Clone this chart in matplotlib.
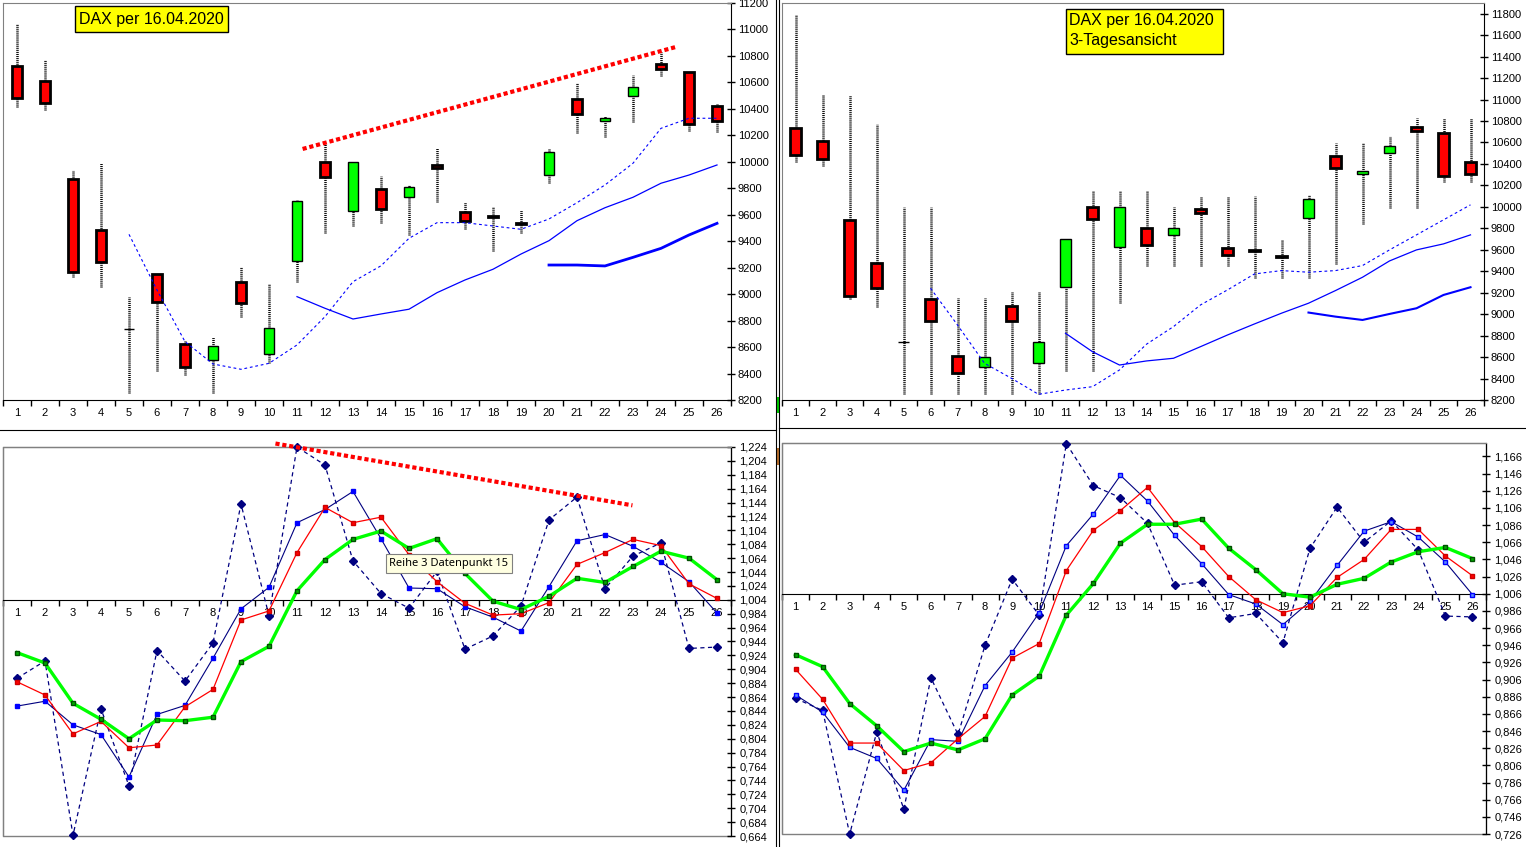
import numpy as np
import matplotlib
matplotlib.use('Agg')
import matplotlib.pyplot as plt
from matplotlib.patches import Rectangle
from matplotlib.lines import Line2D
from matplotlib.ticker import FixedLocator, FuncFormatter

plt.rcParams['font.family'] = ['Liberation Sans', 'DejaVu Sans']
plt.rcParams['lines.scale_dashes'] = False

W, H = 1526, 847
tage = list(range(1, 27))

# --- Tageskerzen (oben links) ---
tag_open = [10726, 10608, 9868, 9482, 8737, 9150, 8621, 8500, 9089, 8545, 9248, 9996, 9626,
            9797, 9732, 9976, 9619, 9592, 9541, 9900, 10473, 10306, 10495, 10737, 10681, 10425]
tag_high = [11041, 10769, 9938, 9989, 8976, 9150, 8653, 8674, 9207, 9074, 9711, 10135, 9996,
            9893, 9825, 10107, 9699, 9656, 9636, 10107, 10593, 10346, 10656, 10833, 10681, 10435]
tag_low = [10417, 10392, 9132, 9056, 8250, 8421, 8389, 8255, 8830, 8477, 9094, 9460, 9517,
           9540, 9447, 9699, 9495, 9329, 9465, 9838, 10220, 10190, 10303, 10651, 10235, 10228]
tag_close = [10480, 10444, 9165, 9241, 8737, 8943, 8447, 8606, 8931, 8742, 9704, 9883, 9996,
             9641, 9812, 9950, 9553, 9582, 9531, 10072, 10359, 10329, 10563, 10699, 10286, 10306]
tag_ma_kurz = [9452, 9031, 8641, 8472, 8432, 8477, 8616, 8830, 9094, 9214, 9422, 9540, 9540,
               9515, 9490, 9568, 9691, 9825, 9989, 10253, 10329, 10329]          # ab Tag 5
tag_ma_mittel = [8981, 8893, 8812, 8850, 8886, 9011, 9107, 9188, 9303, 9404, 9555, 9653,
                 9732, 9838, 9900, 9976]                                          # ab Tag 11
tag_ma_lang = [9220, 9220, 9213, 9278, 9346, 9447, 9535]                          # ab Tag 20

# --- 3-Tagesansicht (oben rechts) ---
drei_open = [10734, 10612, 9876, 9480, 8738, 9145, 8613, 8505, 9079, 8542, 9251, 9997, 9624,
             9800, 9736, 9978, 9615, 9595, 9542, 9894, 10472, 10308, 10501, 10743, 10687, 10422]
drei_high = [11784, 11044, 11044, 10774, 9997, 9997, 9148, 9148, 9204, 9204, 9701, 10144, 10144,
             10144, 10003, 10103, 10103, 10103, 9692, 10112, 10594, 10594, 10662, 10827, 10827, 10827]
drei_low = [10422, 10385, 9139, 9064, 8253, 8253, 8253, 8253, 8253, 8253, 8473, 8473, 9101,
            9453, 9453, 9453, 9453, 9335, 9335, 9335, 9465, 9841, 9989, 9989, 10236, 10236]
drei_close = [10485, 10445, 9170, 9242, 8738, 8940, 8449, 8604, 8933, 8738, 9701, 9885, 9997,
              9642, 9807, 9945, 9550, 9585, 9532, 10071, 10361, 10332, 10566, 10709, 10289, 10308]
drei_ma_kurz = [9242, 8899, 8542, 8402, 8253, 8293, 8324, 8480, 8720, 8884, 9086, 9226, 9375,
                9406, 9391, 9406, 9453, 9599, 9739, 9879, 10019]                  # ab Tag 6
drei_ma_mittel = [8822, 8650, 8526, 8564, 8589, 8697, 8806, 8909, 9009, 9102, 9220, 9344,
                  9496, 9599, 9655, 9739]                                         # ab Tag 11
drei_ma_lang = [9015, 8977, 8946, 9002, 9055, 9179, 9251]                         # ab Tag 20

# --- Verhaeltnisse (unten links) ---
ul_reihe1 = [0.891, 0.916, 0.665, 0.847, 0.736, 0.931, 0.887, 0.942, 1.142, 0.981, 1.224, 1.198, 1.060,
             1.013, 0.992, 1.045, 0.933, 0.952, 0.995, 1.119, 1.152, 1.020, 1.067, 1.086, 0.934, 0.936]
ul_reihe2 = [0.851, 0.858, 0.824, 0.810, 0.749, 0.839, 0.852, 0.920, 0.991, 1.022, 1.115, 1.134, 1.160,
             1.092, 1.021, 1.020, 0.994, 0.979, 0.959, 1.023, 1.089, 1.098, 1.081, 1.058, 1.030, 0.985]
ul_reihe3 = [0.886, 0.867, 0.811, 0.829, 0.791, 0.795, 0.850, 0.875, 0.975, 0.988, 1.072, 1.137, 1.115,
             1.123, 1.069, 1.030, 0.999, 0.982, 0.984, 1.000, 1.055, 1.072, 1.091, 1.082, 1.027, 1.006]
ul_reihe4 = [0.928, 0.913, 0.855, 0.832, 0.804, 0.831, 0.830, 0.835, 0.915, 0.937, 1.017, 1.062, 1.091,
             1.103, 1.078, 1.092, 1.042, 1.002, 0.990, 1.009, 1.035, 1.029, 1.052, 1.074, 1.064, 1.033]

# --- Verhaeltnisse (unten rechts) ---
ur_reihe1 = [0.884, 0.870, 0.726, 0.845, 0.755, 0.908, 0.842, 0.946, 1.023, 0.981, 1.181, 1.132, 1.118,
             1.088, 1.016, 1.020, 0.978, 0.983, 0.949, 1.059, 1.107, 1.066, 1.091, 1.057, 0.980, 0.979]
ur_reihe2 = [0.888, 0.868, 0.827, 0.814, 0.777, 0.836, 0.834, 0.899, 0.938, 0.984, 1.062, 1.099, 1.144,
             1.114, 1.074, 1.041, 1.005, 0.994, 0.970, 0.997, 1.039, 1.079, 1.090, 1.072, 1.043, 1.005]
ur_reihe3 = [0.918, 0.883, 0.832, 0.832, 0.800, 0.809, 0.837, 0.863, 0.931, 0.948, 1.033, 1.080, 1.103,
             1.130, 1.089, 1.061, 1.026, 0.999, 0.984, 0.992, 1.025, 1.046, 1.081, 1.081, 1.050, 1.027]
ur_reihe4 = [0.935, 0.921, 0.878, 0.852, 0.822, 0.832, 0.824, 0.837, 0.888, 0.910, 0.981, 1.018, 1.065,
             1.087, 1.087, 1.093, 1.059, 1.034, 1.006, 1.002, 1.017, 1.024, 1.043, 1.055, 1.060, 1.047]

# Trendlinien (Tag, Wert)
trend_oben = ([11.2, 24.57], [10097, 10870])
trend_unten = ([10.23, 22.98], [1.229, 1.140])

ticks_oben_l = list(range(8200, 11201, 200))
ticks_oben_r = list(range(8200, 11801, 200))
ticks_unten_l = [0.664 + 0.02 * k for k in range(29)]
ticks_unten_r = [0.726 + 0.02 * k for k in range(23)]


def ab(start, werte):
    return [np.nan] * (start - 1) + werte


def pos(x0, y0, x1, y1):
    return [x0 / W, 1 - y1 / H, (x1 - x0) / W, (y1 - y0) / H]


def kerzen(ax, o, h, l, c, breite):
    o, h, l, c = map(np.array, (o, h, l, c))
    ax.vlines(tage, l, h, color='black', lw=1.8, linestyles=[(0, (0.7, 0.7))], zorder=2)
    farbe = np.where(c > o, '#00FF00', np.where(c < o, '#FF0000', 'black'))
    lw = np.where(c < o, 2.0, 1.0)
    ax.bar(tage, np.abs(c - o), bottom=np.minimum(o, c), width=breite, color=farbe,
           edgecolor='black', linewidth=lw, zorder=3)


def achsen(ax, ymin, ymax, ticks, fmt, ypad):
    ax.set_xlim(0.5, 26.5)
    ax.set_ylim(ymin, ymax)
    ax.yaxis.tick_right()
    ax.yaxis.set_major_locator(FixedLocator(ticks))
    ax.yaxis.set_major_formatter(FuncFormatter(fmt))
    ax.tick_params(axis='y', direction='inout', length=6, width=1, labelsize=8, pad=ypad)
    ax.set_xticks(tage)
    ax.set_xticks(np.arange(0.5, 27, 1), minor=True)
    ax.tick_params(axis='x', which='major', length=0, labelsize=8, pad=6)
    ax.tick_params(axis='x', which='minor', direction='out', length=4, width=1)
    ax.spines['left'].set_color('#808080')
    ax.spines['top'].set_color('#808080')
    ax.spines['right'].set_color('black')
    ax.spines['bottom'].set_color('black')


fig = plt.figure(figsize=(W / 100, H / 100), dpi=100)
fig.patch.set_facecolor('white')

# oben links
ax1 = fig.add_axes(pos(3, 3, 731, 400))
kerzen(ax1, tag_open, tag_high, tag_low, tag_close, 0.37)
ax1.plot(tage, ab(5, tag_ma_kurz), color='#0000FF', lw=0.8, linestyle=(0, (2, 2)), zorder=4)
ax1.plot(tage, ab(11, tag_ma_mittel), color='#0000FF', lw=0.9, zorder=4)
ax1.plot(tage, ab(20, tag_ma_lang), color='#0000FF', lw=2.0, zorder=4)
ax1.plot(*trend_oben, color='#FF0000', lw=3, linestyle=(0, (3, 2)), zorder=5)
achsen(ax1, 8200, 11200, ticks_oben_l, lambda v, p: f'{v:.0f}', 2)

# oben rechts
ax2 = fig.add_axes(pos(782, 3, 1484, 400))
kerzen(ax2, drei_open, drei_high, drei_low, drei_close, 0.38)
ax2.plot(tage, ab(6, drei_ma_kurz), color='#0000FF', lw=0.8, linestyle=(0, (2, 2)), zorder=4)
ax2.plot(tage, ab(11, drei_ma_mittel), color='#0000FF', lw=0.9, zorder=4)
ax2.plot(tage, ab(20, drei_ma_lang), color='#0000FF', lw=1.5, zorder=4)
achsen(ax2, 8200, 11900, ticks_oben_r, lambda v, p: f'{v:.0f}', 2)


def linien(ax, r1, r2, r3, r4, mfc2):
    ax.plot(tage, r1, color='#000080', lw=0.9, linestyle=(0, (3, 2.5)), marker='D', ms=4.5,
            mfc='#000080', mec='#000080', clip_on=False, zorder=3)
    ax.plot(tage, r2, color='#000080', lw=0.8, marker='s', ms=3.2, mfc=mfc2, mec='#0000FF', zorder=4)
    ax.plot(tage, r3, color='#FF0000', lw=0.9, marker='s', ms=3.2, mfc='#FF0000', mec='#CC0000', zorder=5)
    ax.plot(tage, r4, color='#00FF00', lw=2.4, marker='s', ms=3.2, mfc='#00AA00', mec='#005000', zorder=6)


def komma(v, p):
    return f'{v:.3f}'.replace('.', ',')


# unten links
ax3 = fig.add_axes(pos(3, 447, 731, 836))
linien(ax3, ul_reihe1, ul_reihe2, ul_reihe3, ul_reihe4, '#0000FF')
ax3.plot(*trend_unten, color='#FF0000', lw=3, linestyle=(0, (3, 2)), clip_on=False, zorder=7)
achsen(ax3, 0.664, 1.224, ticks_unten_l, komma, 3)
ax3.spines['bottom'].set_position(('data', 1.004))
ax3.add_patch(Rectangle((0, 0), 1, 1, transform=ax3.transAxes, fill=False,
                        edgecolor='#808080', lw=1, zorder=1, clip_on=False))

# unten rechts
ax4 = fig.add_axes(pos(782, 443, 1486, 834))
linien(ax4, ur_reihe1, ur_reihe2, ur_reihe3, ur_reihe4, '#5C8CFF')
achsen(ax4, 0.726, 1.1817, ticks_unten_r, komma, 3)
ax4.spines['bottom'].set_position(('data', 1.006))
ax4.add_patch(Rectangle((0, 0), 1, 1, transform=ax4.transAxes, fill=False,
                        edgecolor='#808080', lw=1, zorder=1, clip_on=False))

# Beschriftungsfelder
fig.patches.append(Rectangle((75 / W, 1 - 32 / H), 153 / W, 26 / H, transform=fig.transFigure,
                             facecolor='#FFFF00', edgecolor='black', lw=1))
fig.text(79 / W, 1 - 19.5 / H, 'DAX per 16.04.2020', fontsize=11.5, va='center', ha='left')
fig.patches.append(Rectangle((1066 / W, 1 - 54 / H), 157 / W, 45 / H, transform=fig.transFigure,
                             facecolor='#FFFF00', edgecolor='black', lw=1))
fig.text(1069 / W, 1 - 20.5 / H, 'DAX per 16.04.2020', fontsize=11.5, va='center', ha='left')
fig.text(1069 / W, 1 - 41 / H, '3-Tagesansicht', fontsize=11.5, va='center', ha='left')

# Tooltip
fig.patches.append(Rectangle((386 / W, 1 - 573 / H), 126 / W, 19 / H, transform=fig.transFigure,
                             facecolor='#FFFFE1', edgecolor='#808080', lw=0.8))
fig.text(449 / W, 1 - 563.5 / H, 'Reihe 3 Datenpunkt 15', fontsize=8, va='center', ha='center',
         family=['Noto Sans', 'DejaVu Sans'])

# Trennlinien zwischen den Fenstern
for x in (776, 779):
    fig.add_artist(Line2D([x / W, x / W], [0, 1], color='black', lw=0.8, transform=fig.transFigure))
fig.add_artist(Line2D([0, 776 / W], [1 - 430 / H] * 2, color='black', lw=0.8, transform=fig.transFigure))
fig.add_artist(Line2D([779 / W, 1], [1 - 428 / H] * 2, color='black', lw=0.8, transform=fig.transFigure))
fig.patches.append(Rectangle((776 / W, 1 - 413 / H), 3 / W, 16 / H, transform=fig.transFigure,
                             facecolor='#00CC00', edgecolor='none'))
fig.patches.append(Rectangle((776 / W, 1 - 465 / H), 3 / W, 17 / H, transform=fig.transFigure,
                             facecolor='#B8702E', edgecolor='none'))

fig.savefig('out.png', dpi=100, facecolor='white')
